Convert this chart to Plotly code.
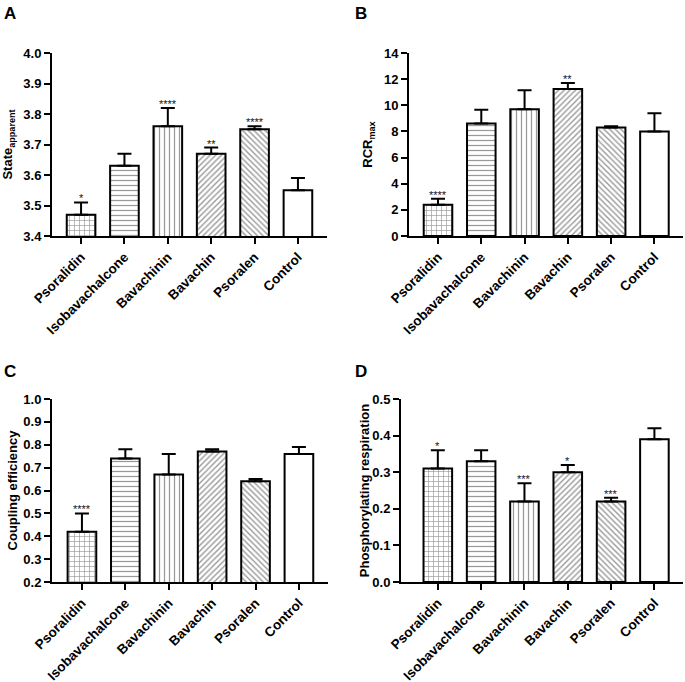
import plotly.graph_objects as go

categories = ["Psoralidin", "Isobavachalcone", "Bavachinin", "Bavachin", "Psoralen", "Control"]

state_vals = [3.47, 3.63, 3.76, 3.67, 3.75, 3.55]
state_err = [0.04, 0.04, 0.06, 0.02, 0.01, 0.04]
state_sig = ["*", "", "****", "**", "****", ""]

rcr_vals = [2.4, 8.6, 9.7, 11.25, 8.3, 8.0]
rcr_err = [0.45, 1.05, 1.45, 0.45, 0.1, 1.4]
rcr_sig = ["****", "", "", "**", "", ""]

coup_vals = [0.42, 0.74, 0.67, 0.77, 0.64, 0.76]
coup_err = [0.08, 0.04, 0.09, 0.01, 0.01, 0.03]
coup_sig = ["****", "", "", "", "", ""]

phos_vals = [0.31, 0.33, 0.22, 0.30, 0.22, 0.39]
phos_err = [0.05, 0.03, 0.05, 0.02, 0.01, 0.03]
phos_sig = ["*", "", "***", "*", "***", ""]

patterns = ["+", "-", "|", "/", "\\", ""]
pat_sizes = [5, 5, 5, 4, 4, 8]
pat_solid = [0.25, 0.25, 0.25, 0.35, 0.35, 0.1]

W, H = 685, 682
FONT = "Arial, Liberation Sans, sans-serif"

def px_x(p):
    return p / W

def px_y(p):
    return 1 - p / H

panels = [
    dict(vals=state_vals, err=state_err, sig=state_sig, title="State<sub>apparent</sub>",
         yrange=[3.4, 4.0], dtick=0.1, fmt=".1f", xd=[52, 327], yd=[53, 236], xr=[-0.67, 5.67],
         letter="A", lx=2, ly=2, standoff=10),
    dict(vals=rcr_vals, err=rcr_err, sig=rcr_sig, title="RCR<sub>max</sub>",
         yrange=[0, 14], dtick=2, fmt="d", xd=[409, 683], yd=[53, 236], xr=[-0.67, 5.66],
         letter="B", lx=353, ly=2, standoff=8),
    dict(vals=coup_vals, err=coup_err, sig=coup_sig, title="Coupling efficiency",
         yrange=[0.2, 1.0], dtick=0.1, fmt=".1f", xd=[52, 328], yd=[399, 582], xr=[-0.69, 5.67],
         letter="C", lx=2, ly=360, standoff=3),
    dict(vals=phos_vals, err=phos_err, sig=phos_sig, title="Phosphorylating respiration",
         yrange=[0, 0.5], dtick=0.1, fmt=".1f", xd=[401, 683], yd=[399, 582], xr=[-0.85, 5.66],
         letter="D", lx=353, ly=360, standoff=0),
]

fig = go.Figure()
annotations = []
for i, p in enumerate(panels):
    n = "" if i == 0 else str(i + 1)
    xa, ya = "x" + n, "y" + n
    fig.add_trace(go.Bar(
        x=categories, y=p["vals"], xaxis=xa, yaxis=ya, width=0.66,
        marker=dict(color="white", line=dict(color="black", width=2),
                    pattern=dict(shape=patterns, fgcolor="#333", bgcolor="white",
                                 size=pat_sizes, solidity=pat_solid)),
        error_y=dict(type="data", array=p["err"], arrayminus=[0] * 6, symmetric=False,
                     color="black", thickness=2, width=7),
        showlegend=False, hoverinfo="skip",
    ))
    for c, v, e, s in zip(categories, p["vals"], p["err"], p["sig"]):
        if s:
            annotations.append(dict(x=c, y=v + e, xref=xa, yref=ya, text=s, showarrow=False,
                                    yanchor="bottom", yshift=-4,
                                    font=dict(family=FONT, size=11, color="#111")))
    annotations.append(dict(x=px_x(p["lx"]), y=px_y(p["ly"]), xref="paper", yref="paper",
                            text=p["letter"], showarrow=False, xanchor="left", yanchor="top",
                            font=dict(family=FONT, size=17, color="black", weight="bold")))
    xkey = "xaxis" + n
    ykey = "yaxis" + n
    fig.layout[xkey] = dict(
        domain=[px_x(p["xd"][0]), px_x(p["xd"][1])], anchor=ya, type="category",
        range=p["xr"], showline=True, linecolor="black", linewidth=2,
        ticks="outside", ticklen=6, tickwidth=2, tickcolor="black", tickangle=-45,
        tickfont=dict(family=FONT, size=13.5, color="black", weight="bold"),
        showgrid=False, zeroline=False, fixedrange=True, automargin=False,
    )
    fig.layout[ykey] = dict(
        domain=[px_y(p["yd"][1]), px_y(p["yd"][0])], anchor=xa,
        range=p["yrange"], dtick=p["dtick"], tick0=p["yrange"][0], tickformat=p["fmt"],
        showline=True, linecolor="black", linewidth=2,
        ticks="outside", ticklen=6, tickwidth=2, tickcolor="black",
        tickfont=dict(family=FONT, size=13, color="black", weight="bold"),
        title=dict(text=p["title"], standoff=p["standoff"],
                   font=dict(family=FONT, size=13, color="black", weight="bold")),
        showgrid=False, zeroline=False, fixedrange=True, automargin=False,
    )

fig.update_layout(
    width=W, height=H, margin=dict(l=0, r=0, t=0, b=0),
    paper_bgcolor="white", plot_bgcolor="white",
    annotations=annotations, bargap=0.3,
)

fig.write_html("out.html", config={"displayModeBar": False},
               post_script="document.body.style.margin='0';document.body.style.overflow='hidden';")
